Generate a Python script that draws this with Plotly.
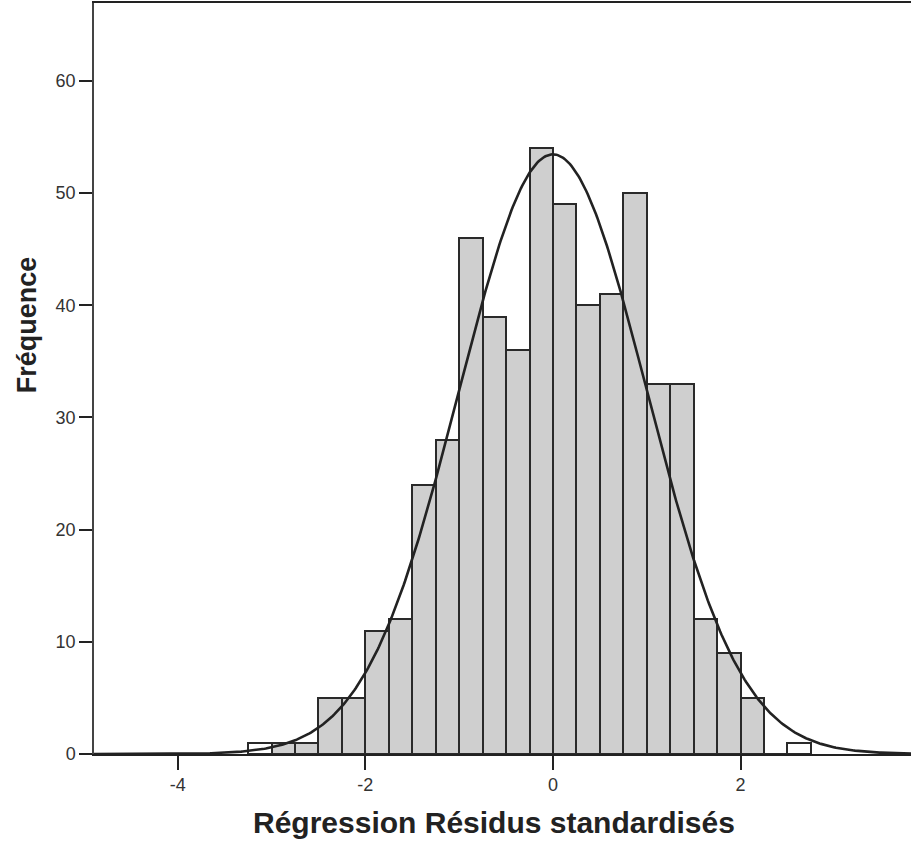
import numpy as np
import plotly.graph_objects as go

# ---- data ----
bin_left = [-3.25, -3.0, -2.75, -2.5, -2.25, -2.0, -1.75, -1.5, -1.25, -1.0,
            -0.75, -0.5, -0.25, 0.0, 0.25, 0.5, 0.75, 1.0, 1.25, 1.5,
            1.75, 2.0, 2.25, 2.5]
counts = [1, 1, 1, 5, 5, 11, 12, 24, 28, 46,
          39, 36, 54, 49, 40, 41, 50, 33, 33, 12,
          9, 5, 0, 1]
bin_width = 0.25
resid_mean = 0.0
resid_sd = 1.0
x_ticks = [-4, -2, 0, 2]
y_ticks = [0, 10, 20, 30, 40, 50, 60]
x_title = "Régression Résidus standardisés"
y_title = "Fréquence"

# ---- derived ----
centers = [b + bin_width / 2 for b in bin_left]
n_total = sum(counts)
fill = ["#ffffff" if (b < -3.0 or b >= 2.5) else "#cfcfcf" for b in bin_left]

xr = [-4.893, 3.817]
xc = np.linspace(xr[0], xr[1], 600)
yc = n_total * bin_width * np.exp(-0.5 * ((xc - resid_mean) / resid_sd) ** 2) / (resid_sd * np.sqrt(2 * np.pi))

fig = go.Figure()
fig.add_trace(go.Bar(
    x=centers, y=counts, width=bin_width,
    marker=dict(color=fill, line=dict(color="#2a2a2a", width=2)),
    showlegend=False, hoverinfo="x+y",
))
fig.add_trace(go.Scatter(
    x=xc, y=yc, mode="lines",
    line=dict(color="#222222", width=2.6),
    showlegend=False, hoverinfo="skip",
))

tickfont = dict(family="Liberation Sans, Arial", size=18, color="#333333")
fig.update_layout(
    width=911, height=854,
    margin=dict(l=94, r=0, t=3, b=100),
    paper_bgcolor="white", plot_bgcolor="white",
    bargap=0,
    xaxis=dict(
        range=xr, tickvals=x_ticks, ticktext=[str(v) for v in x_ticks],
        showgrid=False, zeroline=False, showline=True, linecolor="#222222", linewidth=1.5,
        mirror=True, ticks="outside", ticklen=14, tickwidth=1.5, tickcolor="#222222",
        tickfont=tickfont,
    ),
    yaxis=dict(
        range=[0, 66.95], tickvals=y_ticks,
        showgrid=False, zeroline=False, showline=True, linecolor="#444444", linewidth=1.5,
        ticks="outside", ticklen=13, tickwidth=1.5, tickcolor="#222222",
        tickfont=tickfont,
    ),
    annotations=[
        dict(text="<b>" + x_title + "</b>", xref="paper", yref="paper", x=0.490, y=0, yshift=-68,
             xanchor="center", yanchor="middle", showarrow=False,
             font=dict(family="Liberation Sans, Arial", size=30, color="#222222"),
             ),
        dict(text="<b>" + y_title + "</b>", xref="paper", yref="paper", x=0, xshift=-67, y=0.571,
             xanchor="center", yanchor="middle", showarrow=False, textangle=-90,
             font=dict(family="Liberation Sans, Arial", size=27, color="#222222"),
             ),
    ],
)

fig.write_html("out.html")
